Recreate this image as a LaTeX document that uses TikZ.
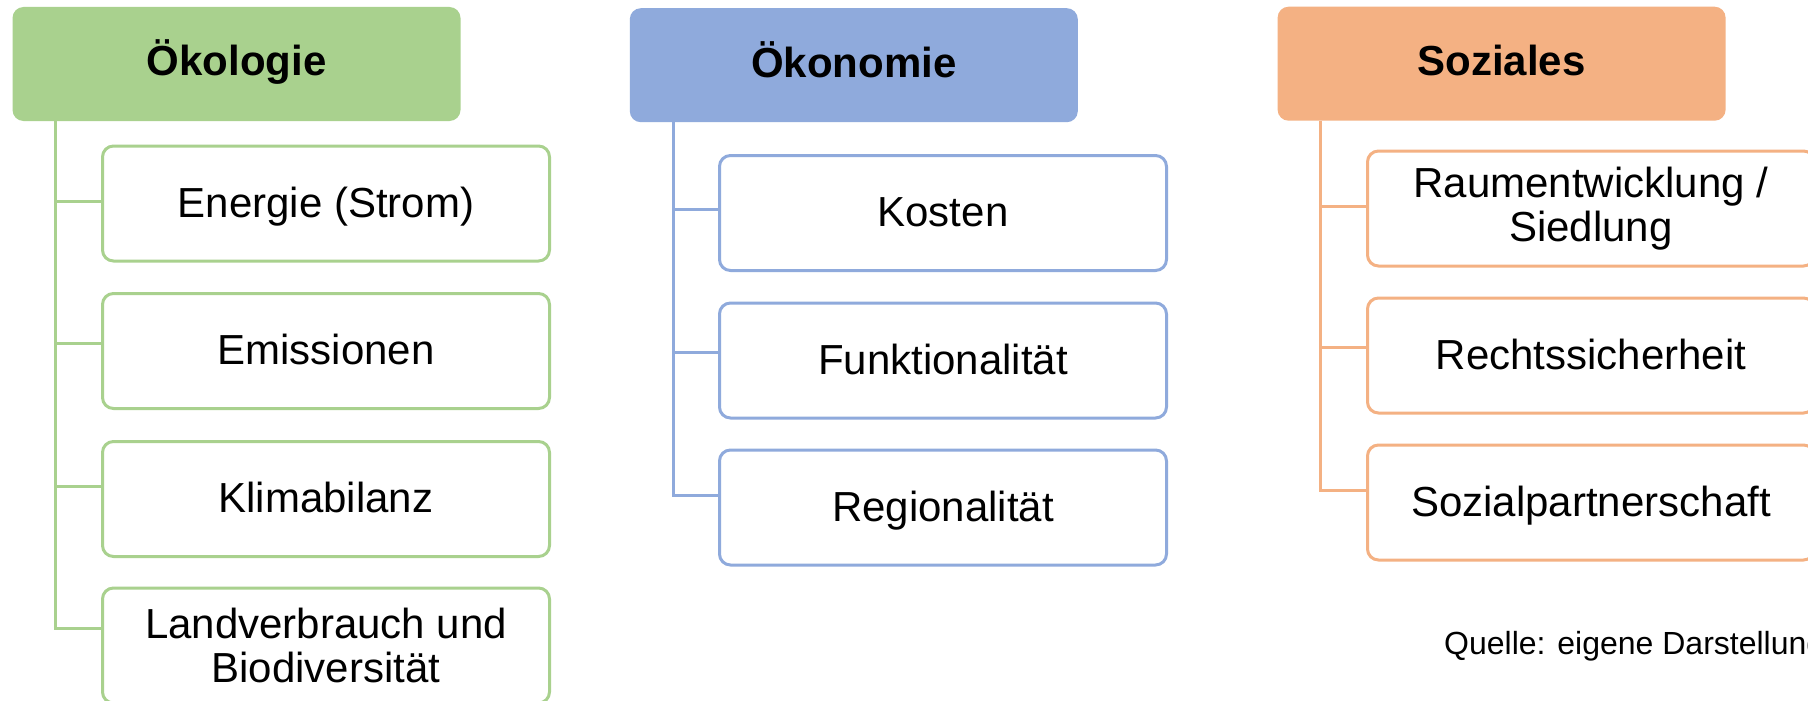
\documentclass[tikz,border=0pt]{standalone}
\usepackage{fontspec}
\setmainfont{Liberation Sans}
\definecolor{ecoG}{HTML}{A9D18E}
\definecolor{ecoB}{HTML}{8FAADC}
\definecolor{ecoO}{HTML}{F4B183}
\tikzset{
  hdr/.style={fill=#1, rounded corners=11pt, minimum width=448pt, minimum height=114pt,
    inner sep=0pt, font=\fontsize{42}{44}\selectfont\bfseries, text height=31pt, text depth=7pt},
  cbox/.style={draw=#1, line width=3pt, rounded corners=11pt, minimum width=447pt,
    minimum height=115pt, inner sep=0pt, align=center, fill=white,
    font=\fontsize{42}{44}\selectfont},
  one/.style={text height=31pt, text depth=4pt},
  conn/.style={draw=#1, line width=3pt},
}
\begin{document}
\begin{tikzpicture}[x=1pt,y=-1pt]
\useasboundingbox (0,0) rectangle (1808,701);
\clip (0,0) rectangle (1808,701);
\fill[white] (0,0) rectangle (1808,701);

% ---------- Oekologie ----------
\node[hdr=ecoG] (h1) at (236.5,64) {Ökologie};
\node[cbox=ecoG, one] (e1) at (326,203.5) {Energie (Strom)};
\node[cbox=ecoG, one] (e2) at (326,351) {Emissionen};
\node[cbox=ecoG, one] (e3) at (326,499) {Klimabilanz};
\node[cbox=ecoG] (e4) at (326,645.5) {Landverbrauch und\\Biodiversität};
\coordinate (t1) at ([xshift=43.5pt]h1.south west);
\path ([yshift=2.5pt]e1.west) coordinate (be1)
      ([yshift=8pt]e2.west) coordinate (be2)
      ([yshift=13pt]e3.west) coordinate (be3)
      ([yshift=17.5pt]e4.west) coordinate (be4);
\draw[conn=ecoG] (t1) |- (be4);
\draw[conn=ecoG] (be1) -- (be1 -| t1);
\draw[conn=ecoG] (be2) -- (be2 -| t1);
\draw[conn=ecoG] (be3) -- (be3 -| t1);

% ---------- Oekonomie ----------
\node[hdr=ecoB] (h2) at (853.8,65.2) {Ökonomie};
\node[cbox=ecoB, one] (k1) at (943,213) {Kosten};
\node[cbox=ecoB, one] (k2) at (943,360.5) {Funktionalität};
\node[cbox=ecoB, one] (k3) at (943,507.5) {Regionalität};
\coordinate (t2) at ([xshift=43.7pt]h2.south west);
\path ([yshift=3.3pt]k1.west) coordinate (bk1)
      ([yshift=8.5pt]k2.west) coordinate (bk2)
      ([yshift=12.5pt]k3.west) coordinate (bk3);
\draw[conn=ecoB] (t2) |- (bk3);
\draw[conn=ecoB] (bk1) -- (bk1 -| t2);
\draw[conn=ecoB] (bk2) -- (bk2 -| t2);

% ---------- Soziales ----------
\node[hdr=ecoO] (h3) at (1501.6,63.7) {Soziales};
\node[cbox=ecoO] (s1) at (1591,208.5) {Raumentwicklung /\\Siedlung};
\node[cbox=ecoO, one] (s2) at (1591,355.5) {Rechtssicherheit};
\node[cbox=ecoO, one] (s3) at (1591,502.5) {Sozialpartnerschaft};
\coordinate (t3) at ([xshift=43.4pt]h3.south west);
\path ([yshift=2.5pt]s1.west) coordinate (bs1)
      ([yshift=8pt]s2.west) coordinate (bs2)
      ([yshift=12pt]s3.west) coordinate (bs3);
\draw[conn=ecoO] (t3) |- (bs3);
\draw[conn=ecoO] (bs1) -- (bs1 -| t3);
\draw[conn=ecoO] (bs2) -- (bs2 -| t3);

% ---------- Quelle ----------
\node[anchor=base west, inner sep=0pt, font=\fontsize{32}{36}\selectfont] (q) at (1444,654) {Quelle: eigene Darstellung};
\end{tikzpicture}
\end{document}
